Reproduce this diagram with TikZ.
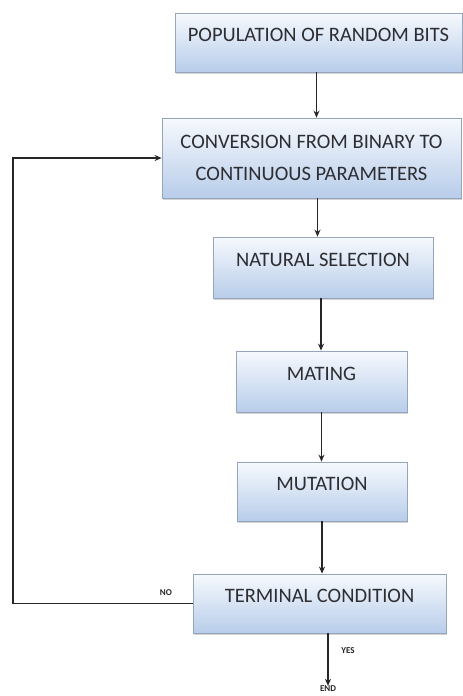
\documentclass[tikz,border=0pt]{standalone}
\usepackage{fontspec}
\setmainfont{Carlito}
\usetikzlibrary{arrows.meta,shadows}
\definecolor{boxtop}{RGB}{246,249,253}
\definecolor{boxbot}{RGB}{184,205,234}
\definecolor{boxline}{RGB}{150,165,185}
\definecolor{txt}{RGB}{45,45,50}
\begin{document}
\begin{tikzpicture}[x=1pt,y=-1pt,
    stepbox/.style={rectangle,draw=boxline,line width=0.8pt,top color=boxtop,bottom color=boxbot,
        drop shadow={opacity=0.35,shadow xshift=1.2pt,shadow yshift=-1.5pt},
        text=txt,align=center,font=\fontsize{20.5}{32}\selectfont,inner sep=0pt},
    raised/.style={text depth=15pt},
    arr/.style={-{Stealth[length=7pt,width=6pt]},line width=1.4pt,draw=black!85},
    lbl/.style={font=\bfseries\fontsize{9}{10}\selectfont,text=black!85,inner sep=0pt}]
    \useasboundingbox (0,0) rectangle (463,696);

    \node[stepbox,raised,minimum width=287pt,minimum height=59pt] (pop) at (318.5,42.5) {POPULATION OF RANDOM BITS};
    \node[stepbox,minimum width=299pt,minimum height=80pt] (conv) at (311.5,158) {CONVERSION FROM BINARY TO\\CONTINUOUS PARAMETERS};
    \node[stepbox,raised,minimum width=220pt,minimum height=61pt] (sel) at (323,267.5) {NATURAL SELECTION};
    \node[stepbox,raised,minimum width=171pt,minimum height=61pt] (mate) at (321.5,381.5) {MATING};
    \node[stepbox,raised,minimum width=170pt,minimum height=59pt] (mut) at (322,491.5) {MUTATION};
    \node[stepbox,raised,minimum width=253pt,minimum height=59pt] (term) at (319.5,603.5) {TERMINAL CONDITION};

    \draw[arr] ([xshift=-2pt]pop.south) -- ([xshift=-2pt]pop.south |- conv.north);
    \draw[arr] ([xshift=6pt]conv.south) -- ([xshift=6pt]conv.south |- sel.north);
    \draw[arr] ([xshift=-2pt]sel.south) -- ([xshift=-2pt]sel.south |- mate.north);
    \draw[arr] (mate.south) -- (mate.south |- mut.north);
    \draw[arr] (mut.south) -- (mut.south |- term.north);

    % yes / no
    \node[lbl] (endl) at (328,689) {END};
    \node[lbl] (yes) at (348,651) {YES};
    \node[lbl] (no) at (166,593) {NO};
    \draw[arr] (term.south -| endl) -- (endl.north);
    \coordinate (back) at (13,604);
    \draw[arr] (term.west) -- (term.west -| back) |- (conv.west);
\end{tikzpicture}
\end{document}
